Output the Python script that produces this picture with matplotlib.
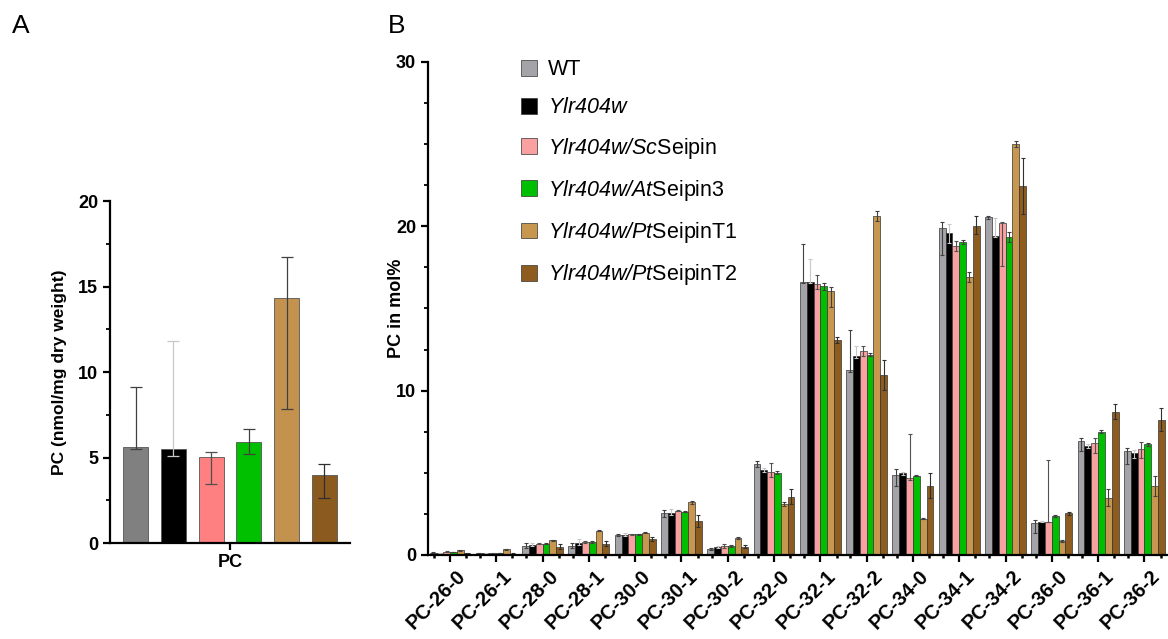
import numpy as np
import matplotlib
matplotlib.use("Agg")
import matplotlib.pyplot as plt
import matplotlib.transforms as mtransforms
from matplotlib.ticker import MultipleLocator, FixedLocator

plt.rcParams['font.family'] = ['Liberation Sans', 'DejaVu Sans']
plt.rcParams['mathtext.fontset'] = 'custom'
plt.rcParams['mathtext.rm'] = 'Liberation Sans'
plt.rcParams['mathtext.sf'] = 'Liberation Sans:italic'

# ---- data ----
strains = ['WT', r'$\mathsf{Ylr404w}$', r'$\mathsf{Ylr404w/Sc}$Seipin',
           r'$\mathsf{Ylr404w/At}$Seipin3', r'$\mathsf{Ylr404w/Pt}$SeipinT1',
           r'$\mathsf{Ylr404w/Pt}$SeipinT2']

# panel A: total PC (nmol/mg dry weight)
pc_total = [5.6, 5.5, 5.02, 5.93, 14.34, 4.0]
pc_total_lo = [0.1, 0.4, 1.58, 0.72, 6.5, 1.35]
pc_total_hi = [3.55, 6.3, 0.33, 0.74, 2.39, 0.65]

# panel B: PC species in mol%
species = ['PC-26-0', 'PC-26-1', 'PC-28-0', 'PC-28-1', 'PC-30-0', 'PC-30-1',
           'PC-30-2', 'PC-32-0', 'PC-32-1', 'PC-32-2', 'PC-34-0', 'PC-34-1',
           'PC-34-2', 'PC-36-0', 'PC-36-1', 'PC-36-2']
wt = [0.15, 0.10, 0.57, 0.57, 1.22, 2.54, 0.35, 5.54, 16.64, 11.26, 4.87, 19.88, 20.55, 1.93, 6.94, 6.33]
ylr = [0.12, 0.10, 0.60, 0.71, 1.22, 2.54, 0.47, 5.17, 16.64, 12.11, 4.97, 19.57, 19.42, 2.03, 6.63, 6.19]
sc = [0.20, 0.10, 0.69, 0.77, 1.25, 2.70, 0.55, 5.07, 16.50, 12.40, 4.67, 18.81, 20.19, 2.03, 6.83, 6.43]
at3 = [0.18, 0.13, 0.69, 0.77, 1.25, 2.64, 0.53, 5.01, 16.35, 12.19, 4.83, 19.05, 19.34, 2.37, 7.50, 6.74]
t1 = [0.28, 0.35, 0.89, 1.48, 1.36, 3.20, 1.03, 3.10, 16.09, 20.63, 2.21, 16.90, 25.00, 0.85, 3.49, 4.20]
t2 = [0.10, 0.08, 0.49, 0.67, 0.97, 2.07, 0.50, 3.55, 13.09, 10.96, 4.22, 20.02, 22.46, 2.54, 8.72, 8.22]

wt_lo = [0.03, 0.02, 0.15, 0.15, 0.08, 0.2, 0.05, 0.2, 0.1, 0.1, 0.7, 1.6, 0.1, 0.6, 0.6, 0.8]
wt_hi = [0.05, 0.02, 0.15, 0.15, 0.08, 0.2, 0.08, 0.2, 2.3, 2.4, 0.35, 0.4, 0.1, 0.2, 0.15, 0.2]
ylr_lo = [0.02, 0.02, 0.05, 0.1, 0.05, 0.1, 0.05, 0.1, 0.1, 0.1, 0.1, 0.6, 0.1, 0.05, 0.1, 0.3]
ylr_hi = [0.02, 0.02, 0.1, 0.25, 0.1, 0.25, 0.1, 0.15, 1.4, 0.6, 0.1, 0.6, 1.1, 0.05, 0.1, 0.2]
sc_lo = [0.02, 0.02, 0.05, 0.05, 0.05, 0.05, 0.1, 0.3, 0.3, 0.3, 0.1, 0.3, 2.6, 0.05, 0.6, 0.55]
sc_hi = [0.02, 0.02, 0.05, 0.05, 0.05, 0.05, 0.1, 0.5, 0.55, 0.3, 2.7, 0.3, 0.1, 3.75, 0.3, 0.45]
at3_lo = [0.02, 0.02, 0.05, 0.05, 0.05, 0.05, 0.05, 0.1, 0.2, 0.1, 0.05, 0.1, 0.3, 0.05, 0.1, 0.1]
at3_hi = [0.02, 0.02, 0.05, 0.05, 0.05, 0.05, 0.05, 0.1, 0.2, 0.1, 0.05, 0.1, 0.3, 0.05, 0.1, 0.1]
t1_lo = [0.03, 0.03, 0.05, 0.05, 0.05, 0.1, 0.05, 0.1, 1.0, 0.3, 0.05, 0.3, 0.2, 0.05, 0.5, 0.6]
t1_hi = [0.03, 0.03, 0.05, 0.05, 0.05, 0.1, 0.05, 0.1, 0.2, 0.3, 0.05, 0.3, 0.2, 0.05, 0.5, 0.6]
t2_lo = [0.03, 0.02, 0.15, 0.15, 0.1, 0.35, 0.1, 0.45, 0.2, 0.9, 0.75, 0.5, 1.7, 0.1, 0.45, 0.7]
t2_hi = [0.03, 0.02, 0.15, 0.15, 0.1, 0.35, 0.1, 0.45, 0.2, 0.9, 0.75, 0.6, 1.7, 0.1, 0.45, 0.7]

colors_a = ['#808080', '#000000', '#FF8080', '#00C000', '#C4924F', '#8B5A1E']
colors_b = ['#A4A4A8', '#000000', '#F9A0A0', '#00BF00', '#C8974F', '#8F5C1F']
err_col = ['#404040', '#C8C8C8', '#505050', '#404040', '#404040', '#303030']

fig = plt.figure(figsize=(11.68, 6.39), dpi=100)

# ---- panel A ----
axA = fig.add_axes([0.0942, 0.150, 0.2055, 0.5354])
xa = np.arange(len(pc_total))
for i in range(len(pc_total)):
    axA.bar(xa[i], pc_total[i], width=0.667, color=colors_a[i],
            edgecolor='#555555', linewidth=0.6)
    axA.errorbar(xa[i], pc_total[i], yerr=[[pc_total_lo[i]], [pc_total_hi[i]]],
                 fmt='none', ecolor=err_col[i], elinewidth=0.9, capsize=4, capthick=0.9)
axA.set_xlim(-0.68, 5.68)
axA.set_ylim(0, 20)
axA.set_xticks([2.5])
axA.set_xticklabels(['PC'], fontsize=17, fontweight='bold')
axA.yaxis.set_major_locator(MultipleLocator(5))
axA.yaxis.set_minor_locator(MultipleLocator(2.5))
axA.set_ylabel('PC (nmol/mg dry weight)', fontsize=12.5, fontweight='bold', labelpad=8)
for s in ['top', 'right']:
    axA.spines[s].set_visible(False)
for s in ['left', 'bottom']:
    axA.spines[s].set_linewidth(1.6)
axA.tick_params(axis='both', which='major', width=1.6, length=5, labelsize=13)
axA.tick_params(axis='x', which='major', pad=3)
axA.tick_params(axis='y', which='minor', width=1.3, length=3)
for lab in axA.get_yticklabels():
    lab.set_fontweight('bold')

# ---- panel B ----
axB = fig.add_axes([0.3664, 0.1315, 0.6336, 0.7715])
xb = np.arange(len(species))
series = [wt, ylr, sc, at3, t1, t2]
lows = [wt_lo, ylr_lo, sc_lo, at3_lo, t1_lo, t2_lo]
highs = [wt_hi, ylr_hi, sc_hi, at3_hi, t1_hi, t2_hi]
w = 0.147
for k in range(6):
    pos = xb + (k - 2.5) * w
    axB.bar(pos, series[k], width=w, color=colors_b[k], edgecolor='#333333',
            linewidth=0.5, label=strains[k])
    axB.errorbar(pos, series[k], yerr=[lows[k], highs[k]], fmt='none',
                 ecolor=err_col[k], elinewidth=0.8, capsize=1.6, capthick=0.8)
axB.set_xlim(-0.475, 15.51)
axB.set_ylim(0, 30)
axB.set_xticks(xb)
axB.xaxis.set_minor_locator(FixedLocator(np.concatenate([xb - 0.35, xb + 0.35])))
axB.yaxis.set_major_locator(MultipleLocator(10))
axB.yaxis.set_minor_locator(MultipleLocator(2.5))
axB.set_ylabel('PC in mol%', fontsize=13, fontweight='bold')
axB.yaxis.set_label_coords(-0.031, 0.5)
for s in ['top', 'right']:
    axB.spines[s].set_visible(False)
for s in ['left', 'bottom']:
    axB.spines[s].set_linewidth(1.6)
axB.tick_params(axis='both', which='major', width=1.6, length=5, labelsize=13)
axB.tick_params(axis='y', which='minor', width=1.3, length=3)
axB.tick_params(axis='x', which='minor', width=1.8, length=2)
for lab in axB.get_yticklabels():
    lab.set_fontweight('bold')
axB.set_xticklabels(species, rotation=45, ha='right', rotation_mode='anchor',
                    fontsize=14.5, fontweight='bold')
# labels sit a little right of their ticks, as in the original
shift = mtransforms.ScaledTranslation(6 / 100, 0, fig.dpi_scale_trans)
for lab in axB.get_xticklabels():
    lab.set_transform(lab.get_transform() + shift)

leg = axB.legend(loc='upper left', bbox_to_anchor=(0.1, 1.045), frameon=False,
                 fontsize=15.5, handlelength=0.75, handleheight=0.75,
                 handletextpad=0.5, labelspacing=0.8)

fig.text(0.010, 0.948, 'A', fontsize=19)
fig.text(0.332, 0.948, 'B', fontsize=19)

fig.savefig('out.png', dpi=100)
